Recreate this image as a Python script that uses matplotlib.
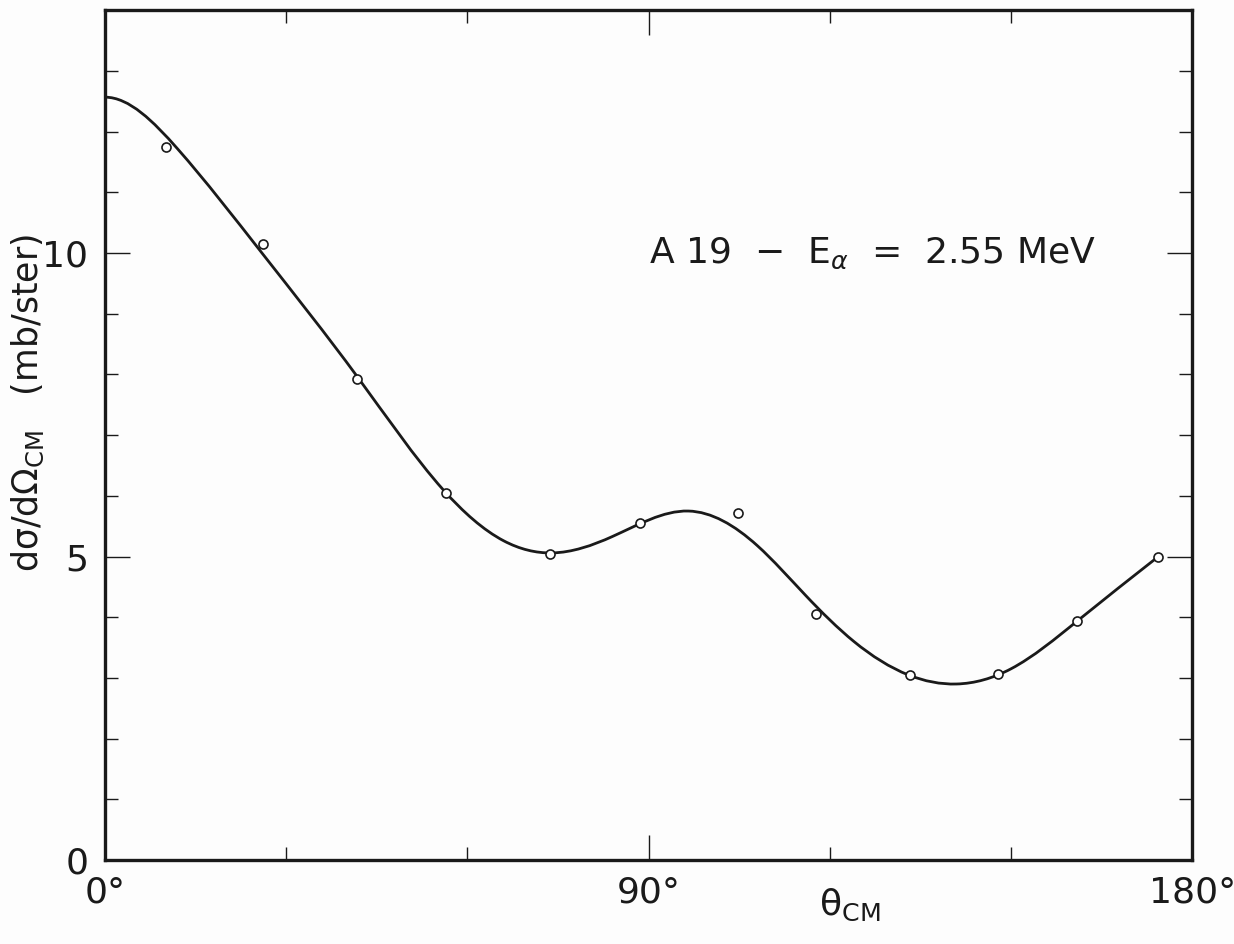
import matplotlib
matplotlib.use('Agg')
import matplotlib.pyplot as plt
import numpy as np
from matplotlib.path import Path
from matplotlib.patches import PathPatch
from matplotlib.ticker import FixedLocator, MultipleLocator

# measured points (theta_cm in degrees, dsigma/dOmega in mb/ster)
theta_pts = [10.1, 26.1, 41.8, 56.4, 73.7, 88.5, 104.8, 117.7, 133.2, 147.9, 161.0, 174.4]
sigma_pts = [11.75, 10.15, 7.92, 6.05, 5.05, 5.56, 5.72, 4.05, 3.04, 3.06, 3.94, 5.00]

# hand-drawn fit curve, knots
theta_fit = [0, 12, 26, 41.8, 56, 66, 74, 84, 96.6, 108, 116, 124, 133, 141, 150, 161, 174.4]
sigma_fit = [12.57, 11.72, 10.0, 7.96, 6.1, 5.26, 5.06, 5.33, 5.75, 5.18, 4.36, 3.6,
             3.05, 2.9, 3.15, 3.94, 5.0]

x_major = [0, 90, 180]
x_labels = ['0°', '90°', '180°']
x_minor = [30, 60, 120, 150]
y_major = [0, 5, 10]
y_labels = ['0', '5', '10']

INK = '#1a1a1a'


def smooth_path(xs, ys):
    # cubic spline through the knots (flat start, natural end), drawn as beziers
    xs = np.asarray(xs, float)
    ys = np.asarray(ys, float)
    n = len(xs)
    h = np.diff(xs)
    d = np.diff(ys) / h
    A = np.zeros((n, n))
    b = np.zeros(n)
    A[0, 0] = 1.0
    for i in range(1, n - 1):
        A[i, i - 1] = 1 / h[i - 1]
        A[i, i] = 2 * (1 / h[i - 1] + 1 / h[i])
        A[i, i + 1] = 1 / h[i]
        b[i] = 3 * (d[i - 1] / h[i - 1] + d[i] / h[i])
    A[-1, -2] = 1.0
    A[-1, -1] = 2.0
    b[-1] = 3 * d[-1]
    m = np.linalg.solve(A, b)
    verts = [(xs[0], ys[0])]
    codes = [Path.MOVETO]
    for i in range(n - 1):
        verts.append((xs[i] + h[i] / 3, ys[i] + m[i] * h[i] / 3))
        verts.append((xs[i + 1] - h[i] / 3, ys[i + 1] - m[i + 1] * h[i] / 3))
        verts.append((xs[i + 1], ys[i + 1]))
        codes += [Path.CURVE4] * 3
    return Path(verts, codes)


plt.rcParams['font.family'] = ['DejaVu Sans']
plt.rcParams['mathtext.fontset'] = 'dejavusans'

fig = plt.figure(figsize=(12.34, 9.44), dpi=100, facecolor='#fdfdfd')
ax = fig.add_axes([0.0851, 0.089, 0.881, 0.9])
ax.set_facecolor('#fdfdfd')

ax.add_patch(PathPatch(smooth_path(theta_fit, sigma_fit), facecolor='none',
                       edgecolor=INK, lw=2.0, capstyle='round', zorder=2))
ax.plot(theta_pts, sigma_pts, linestyle='none', marker='o', ms=6.5, mfc='white',
        mec=INK, mew=1.2, zorder=3)

ax.set_xlim(0, 180)
ax.set_ylim(0, 14)
ax.xaxis.set_major_locator(FixedLocator(x_major))
ax.set_xticklabels(x_labels)
ax.xaxis.set_minor_locator(FixedLocator(x_minor))
ax.yaxis.set_major_locator(FixedLocator(y_major))
ax.set_yticklabels(y_labels)
ax.yaxis.set_minor_locator(MultipleLocator(1))

ax.tick_params(which='both', direction='in', top=True, right=True, colors=INK,
               labelsize=26, width=1.0)
ax.tick_params(which='major', length=18)
ax.tick_params(which='minor', length=9.5)
ax.tick_params(axis='x', which='major', pad=11)
ax.tick_params(axis='y', which='major', pad=12)
for s in ax.spines.values():
    s.set_linewidth(2.4)
    s.set_color(INK)

ax.text(90, 10, 'A 19  \u2212  E$_{\\alpha}$  =  2.55 MeV', fontsize=26,
        ha='left', va='center', color=INK)

ax.set_ylabel('d\u03c3/d\u03a9$_{\\mathrm{CM}}$   (mb/ster)', fontsize=25, color=INK)
ax.yaxis.set_label_coords(-0.054, 0.538)
ax.set_xlabel('\u03b8$_{\\mathrm{CM}}$', fontsize=26, color=INK)
ax.xaxis.set_label_coords(0.685, -0.032)

fig.savefig('out.png', dpi=100, facecolor=fig.get_facecolor())
